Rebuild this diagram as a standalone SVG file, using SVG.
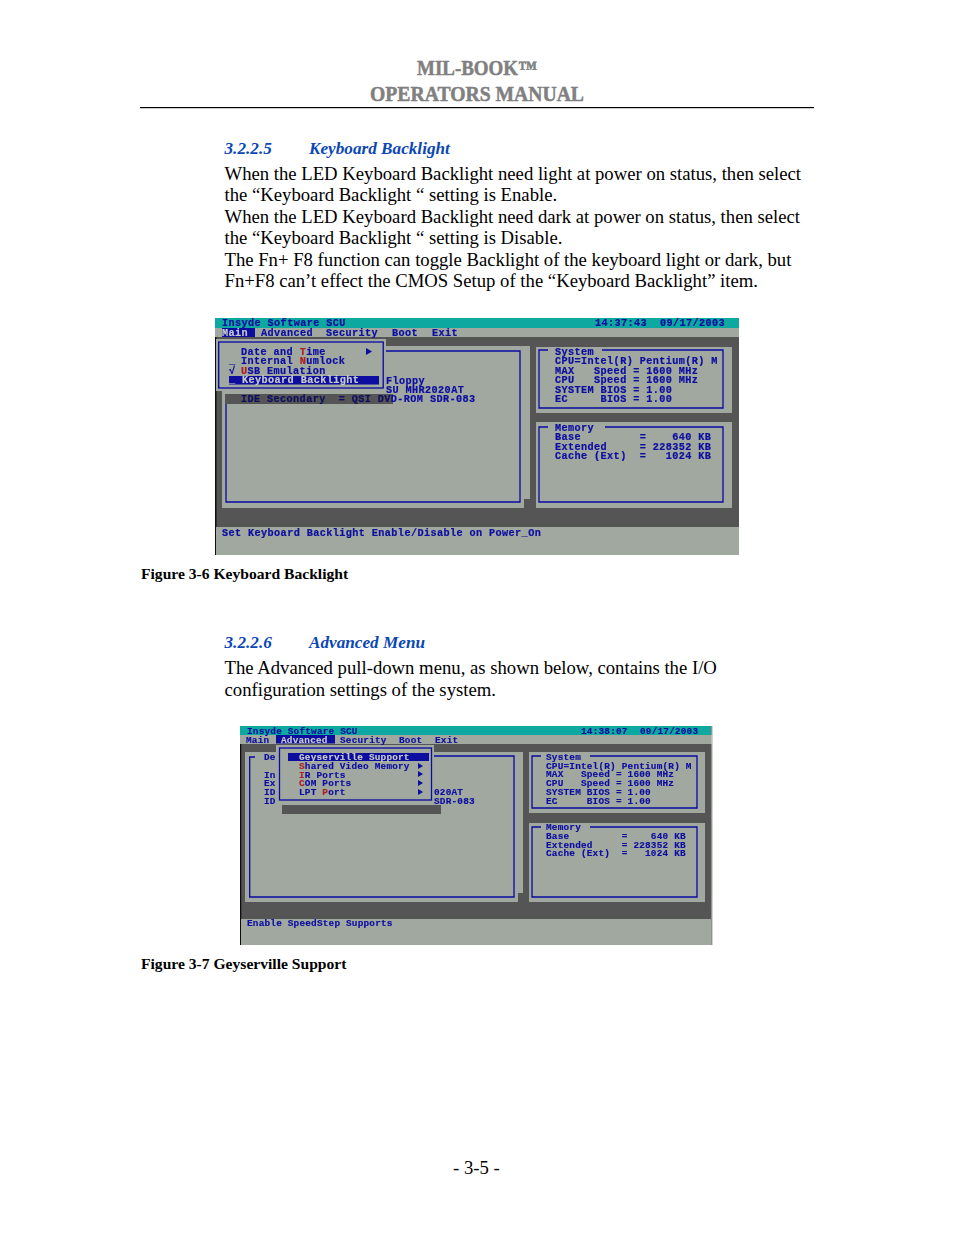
<svg xmlns="http://www.w3.org/2000/svg" width="954" height="1235" viewBox="0 0 954 1235">
<style>
text{white-space:pre}
.b{font:18.7px "Liberation Serif",serif;fill:#000}
.h{font:italic bold 17.2px "Liberation Serif",serif;fill:#0b47b5}
.t{font:bold 20.5px "Liberation Serif",serif;fill:#808080;stroke:#808080;stroke-width:.5px}
.c{font:bold 15.6px "Liberation Serif",serif;fill:#000}
.m1{font:bold 10.2px "Liberation Mono",monospace;letter-spacing:.4px;fill:#0c0ca0;stroke:#0c0ca0;stroke-width:.2px}
.m2{font:bold 9.4px "Liberation Mono",monospace;letter-spacing:.2px;fill:#0c0ca0;stroke:#0c0ca0;stroke-width:.15px}
.w{fill:#c8ccc8;stroke:#c8ccc8}.r{fill:#b02020;stroke:#b02020}.k{fill:#101060;stroke:#101060}
.g{fill:#a0a8a0}.d{fill:#555}.e{fill:#10a8a0}.u{fill:#0808a0}
.l{fill:none;stroke:#0808a0;stroke-width:1.3}
</style>
<defs><filter id="s" x="0" y="0" width="1" height="1"><feGaussianBlur stdDeviation="0.3"/></filter></defs>
<rect width="954" height="1235" fill="#fff"/>
<g id="header">
<text class="t" x="417" y="74.500" textLength="120" lengthAdjust="spacingAndGlyphs">MIL-BOOK™</text>
<text class="t" x="370" y="100.500" textLength="214" lengthAdjust="spacingAndGlyphs">OPERATORS MANUAL</text>
<rect x="140" y="107" width="674" height="1.200" fill="#000"/>
</g>
<g id="section-3-2-2-5">
<text class="h" x="224.500" y="154">3.2.2.5</text>
<text class="h" x="309" y="154">Keyboard Backlight</text>
<text class="b" x="224.500" y="180">When the LED Keyboard Backlight need light at power on status, then select</text>
<text class="b" x="224.500" y="201">the “Keyboard Backlight “ setting is Enable.</text>
<text class="b" x="224.500" y="223">When the LED Keyboard Backlight need dark at power on status, then select</text>
<text class="b" x="224.500" y="244">the “Keyboard Backlight “ setting is Disable.</text>
<text class="b" x="224.500" y="266">The Fn+ F8 function can toggle Backlight of the keyboard light or dark, but</text>
<text class="b" x="224.500" y="287">Fn+F8 can’t effect the CMOS Setup of the “Keyboard Backlight” item.</text>
</g>
<g id="screen-1" filter="url(#s)">
<rect class="d" x="215" y="318" width="524" height="237"/>
<rect x="215" y="337" width="1.500" height="218" fill="#111"/>
<rect class="e" x="215" y="318" width="524" height="10"/>
<rect class="g" x="215" y="328" width="524" height="9"/>
<rect class="u" x="222" y="328" width="33" height="9"/>
<rect class="g" x="222" y="346" width="308" height="153"/>
<rect class="g" x="222" y="499" width="302" height="9"/>
<rect class="d" x="225" y="394" width="168" height="10"/>
<path class="l" d="M386 351H520V502H226V404"/>
<rect class="g" x="216" y="339" width="170" height="52"/>
<rect class="u" x="229" y="376" width="150" height="8.500"/>
<rect x="218.700" y="342" width="164.500" height="46" class="l"/>
<path class="u" d="M366 348l6 3.500l-6 3.500z"/>
<rect class="g" x="536" y="347" width="196" height="66"/>
<path class="l" d="M548 350H539V408H723V350H602"/>
<rect class="g" x="536" y="422" width="196" height="86"/>
<path class="l" d="M548 427H539V502H723V427H605"/>
<rect class="g" x="216" y="527" width="523" height="28"/>
<g class="m1">
<text x="222" y="326">Insyde Software SCU</text>
<text x="595" y="326">14:37:43</text>
<text x="660" y="326">09/17/2003</text>
<text class="w" x="222" y="335.500">Main</text>
<text x="261" y="335.500">Advanced</text>
<text x="326" y="335.500">Security</text>
<text x="392" y="335.500">Boot</text>
<text x="432" y="335.500">Exit</text>
<text x="241" y="355">Date and <tspan class="r">T</tspan>ime</text>
<text x="229" y="364">_</text>
<text x="241" y="364">Internal <tspan class="r">N</tspan>umlock</text>
<text x="229" y="373.500">√</text>
<text x="241" y="373.500"><tspan class="r">U</tspan>SB Emulation</text>
<text class="w" x="229" y="383">_ Keyboard Backlight</text>
<text x="386" y="383.500">Floppy</text>
<text x="386" y="393">SU MHR2020AT</text>
<text x="241" y="402"><tspan class="k">IDE Secondary  = QSI DV</tspan>D-ROM SDR-083</text>
<text x="555" y="355">System</text>
<text x="555" y="364">CPU=Intel(R) Pentium(R) M</text>
<text x="555" y="374">MAX   Speed = 1600 MHz</text>
<text x="555" y="383">CPU   Speed = 1600 MHz</text>
<text x="555" y="393">SYSTEM BIOS = 1.00</text>
<text x="555" y="402">EC     BIOS = 1.00</text>
<text x="555" y="431">Memory</text>
<text x="555" y="440">Base         =    640 KB</text>
<text x="555" y="450">Extended     = 228352 KB</text>
<text x="555" y="459">Cache (Ext)  =   1024 KB</text>
<text x="222" y="535.500">Set Keyboard Backlight Enable/Disable on Power_On</text>
</g>
</g>
<text id="caption-3-6" class="c" x="141" y="579">Figure 3-6 Keyboard Backlight</text>
<g id="section-3-2-2-6">
<text class="h" x="224.500" y="648">3.2.2.6</text>
<text class="h" x="309" y="648">Advanced Menu</text>
<text class="b" x="224.500" y="674">The Advanced pull-down menu, as shown below, contains the I/O</text>
<text class="b" x="224.500" y="696">configuration settings of the system.</text>
</g>
<g id="screen-2" filter="url(#s)">
<rect class="d" x="240" y="726" width="473" height="219"/>
<rect x="240" y="744" width="1.300" height="201" fill="#111"/>
<rect class="e" x="240" y="726" width="471" height="9"/>
<rect class="g" x="240" y="735" width="473" height="9"/>
<rect x="711.500" y="726" width="1.500" height="219" fill="#d0d4d0"/>
<rect class="u" x="276" y="735" width="59" height="8.500"/>
<rect class="g" x="245" y="752" width="278" height="141"/>
<rect class="g" x="245" y="893" width="273" height="9"/>
<path class="l" d="M432 756H514V897H249.700V757H255"/>
<rect class="d" x="282" y="805" width="159" height="9"/>
<rect class="g" x="276" y="745" width="158" height="60"/>
<rect x="279.500" y="748" width="152" height="52" class="l"/>
<rect class="u" x="288" y="753" width="141" height="8"/>
<g class="u">
<path d="M418 754l5 3l-5 3z"/><path d="M418 763l5 3l-5 3z"/><path d="M418 771l5 3l-5 3z"/><path d="M418 780l5 3l-5 3z"/><path d="M418 789l5 3l-5 3z"/>
</g>
<rect class="g" x="529" y="752" width="176" height="61"/>
<path class="l" d="M541 756H532V808H697V756H590"/>
<rect class="g" x="529" y="823" width="176" height="79"/>
<path class="l" d="M541 827H532V897H697V827H590"/>
<rect class="g" x="241" y="919" width="470" height="26"/>
<g class="m2">
<text x="247" y="733.500">Insyde Software SCU</text>
<text x="581" y="733.500">14:38:07</text>
<text x="640" y="733.500">09/17/2003</text>
<text x="246" y="742.500">Main</text>
<text class="w" x="281" y="742.500">Advanced</text>
<text x="340" y="742.500">Security</text>
<text x="399" y="742.500">Boot</text>
<text x="435" y="742.500">Exit</text>
<text x="264" y="760">De</text>
<text x="264" y="777.600">In</text>
<text x="264" y="786.400">Ex</text>
<text x="264" y="795.200">ID</text>
<text x="264" y="804">ID</text>
<text class="w" x="299" y="760">Geyserville Support</text>
<text x="299" y="768.800"><tspan class="r">S</tspan>hared Video Memory</text>
<text x="299" y="777.600"><tspan class="r">I</tspan>R Ports</text>
<text x="299" y="786.400"><tspan class="r">C</tspan>OM Ports</text>
<text x="299" y="795.200">LPT <tspan class="r">P</tspan>ort</text>
<text x="434" y="795.200">020AT</text>
<text x="434" y="804">SDR-083</text>
<text x="546" y="760">System</text>
<text x="546" y="768.700">CPU=Intel(R) Pentium(R) M</text>
<text x="546" y="777.400">MAX   Speed = 1600 MHz</text>
<text x="546" y="786.100">CPU   Speed = 1600 MHz</text>
<text x="546" y="794.800">SYSTEM BIOS = 1.00</text>
<text x="546" y="803.500">EC     BIOS = 1.00</text>
<text x="546" y="830">Memory</text>
<text x="546" y="838.800">Base         =    640 KB</text>
<text x="546" y="847.600">Extended     = 228352 KB</text>
<text x="546" y="856.400">Cache (Ext)  =   1024 KB</text>
<text x="247" y="926">Enable SpeedStep Supports</text>
</g>
</g>
<text id="caption-3-7" class="c" x="141" y="969">Figure 3-7 Geyserville Support</text>
<text id="page-number" class="b" x="453" y="1174">- 3-5 -</text>
</svg>
